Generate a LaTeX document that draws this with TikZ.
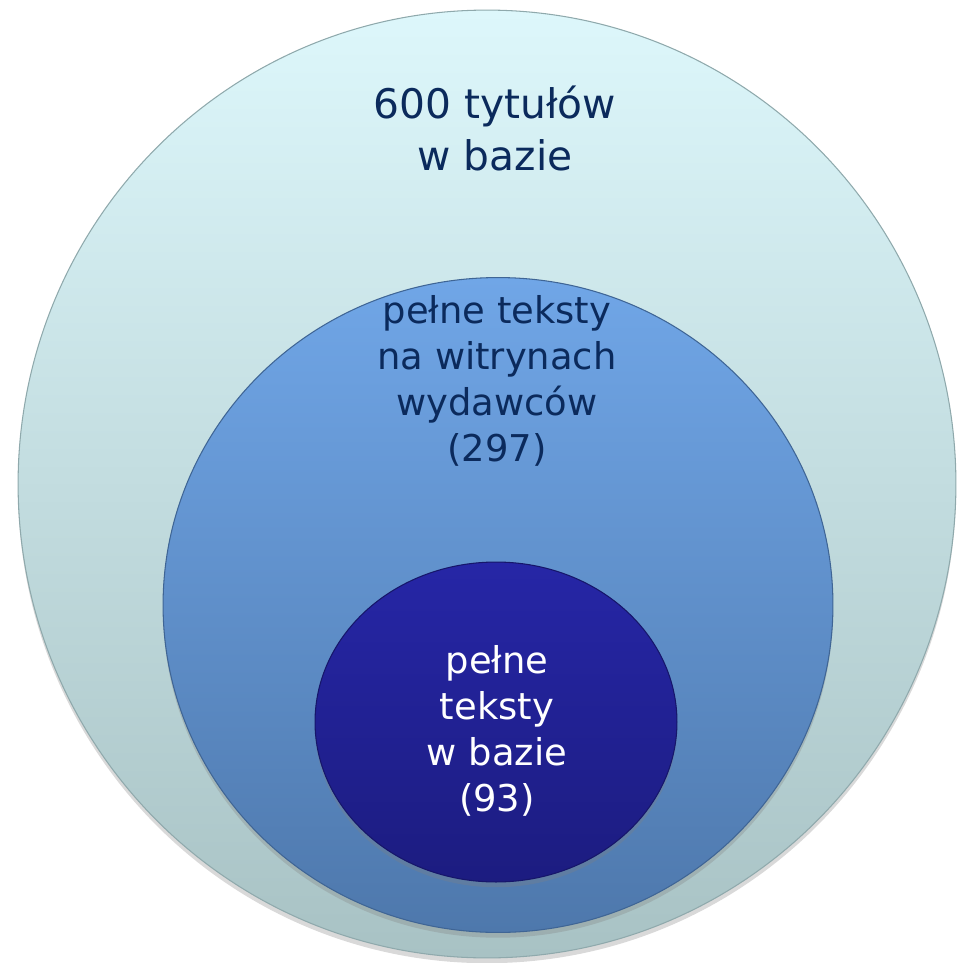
\documentclass[tikz,border=0pt]{standalone}
\usepackage{fontspec}
\setmainfont{DejaVu Sans}
\usetikzlibrary{shapes.geometric,shadows}
\definecolor{outertop}{HTML}{DDF7FB}
\definecolor{outerbot}{HTML}{A8C2C4}
\definecolor{outerline}{HTML}{8FA9AC}
\definecolor{midtop}{HTML}{70A6E7}
\definecolor{midbot}{HTML}{4E78AC}
\definecolor{midline}{HTML}{3F6595}
\definecolor{innertop}{HTML}{2626A6}
\definecolor{innerbot}{HTML}{1C1C80}
\definecolor{innerline}{HTML}{16166A}
\definecolor{navytext}{HTML}{0B2A5C}
\begin{document}
\begin{tikzpicture}[x=0.02cm,y=-0.02cm,
  disc/.style={ellipse,inner sep=0,line width=0.6pt,
    drop shadow={shadow xshift=0pt,shadow yshift=-3pt,opacity=0.3}},
  bigtext/.style={font=\fontsize{23.2}{29.6}\selectfont,align=center,inner sep=0},
  smalltext/.style={font=\fontsize{21}{26.2}\selectfont,align=center,inner sep=0}]
\useasboundingbox (0,0) rectangle (958,963);
% the three nested sets
\node[disc,minimum width=18.76cm,minimum height=18.96cm,top color=outertop,bottom color=outerbot,draw=outerline] (titles) at (487,484) {};
\node[disc,minimum width=13.4cm,minimum height=13.1cm,top color=midtop,bottom color=midbot,draw=midline] (publishers) at (498,605) {};
\node[disc,minimum width=7.24cm,minimum height=6.4cm,top color=innertop,bottom color=innerbot,draw=innerline] (fulltext) at (496,722) {};
% labels
\node[bigtext,text=navytext] (titleslabel) at (495,128) {600 tytułów\\w bazie};
\node[smalltext,text=navytext] (publisherslabel) at (497,381) {pełne teksty\\na witrynach\\wydawców\\(297)};
\node[smalltext,text=white] (fulltextlabel) at (497,731) {pełne\\teksty\\w bazie\\(93)};
\end{tikzpicture}
\end{document}
